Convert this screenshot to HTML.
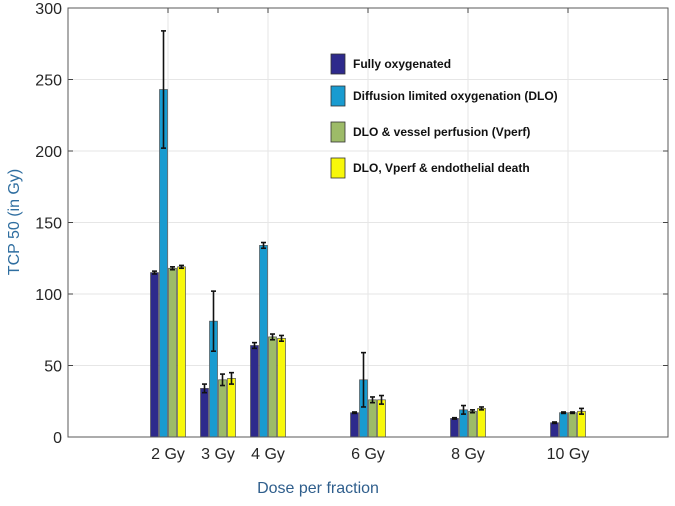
<!DOCTYPE html>
<html><head><meta charset="utf-8"><style>
body{margin:0;background:#fff;width:675px;height:501px;overflow:hidden}
svg text{font-family:"Liberation Sans",Arial,sans-serif}
</style></head><body>
<svg id="chart" width="675" height="501" xmlns="http://www.w3.org/2000/svg"></svg>
<script>
const categories = [2, 3, 4, 6, 8, 10];
const catLabels = ["2 Gy", "3 Gy", "4 Gy", "6 Gy", "8 Gy", "10 Gy"];
const seriesNames = ["Fully oxygenated", "Diffusion  limited oxygenation (DLO)", "DLO & vessel perfusion (Vperf)", "DLO, Vperf & endothelial death"];
const fullyOxy = [115, 34, 64, 17, 13, 10];
const dlo = [243, 81, 134, 40, 19, 17];
const vperf = [118, 40, 70, 26, 18, 17];
const endo = [119, 41, 69, 26, 20, 18];
const errFullyOxy = [1, 3, 2, 0.5, 0.5, 0.5];
const errDlo = [41, 21, 2, 19, 3, 0.5];
const errVperf = [1, 4, 2, 2, 1, 0.5];
const errEndo = [1, 4, 2, 3, 1, 2];
const yTicks = [0, 50, 100, 150, 200, 250, 300];
const xGrid = [2, 4, 6, 8, 10];

const colors = ["#2e2a8c", "#199bd0", "#9dbb68", "#f8f80a"];
const series = [fullyOxy, dlo, vperf, endo];
const errs = [errFullyOxy, errDlo, errVperf, errEndo];
const L = 68, R = 668, T = 8, B = 437;
const xs = v => L + (v / 12) * (R - L);
const ys = v => B - (v / 300) * (B - T);
const svg = document.getElementById('chart');
const NS = "http://www.w3.org/2000/svg";
function mk(tag, attrs, parent) {
  const e = document.createElementNS(NS, tag);
  for (const k in attrs) e.setAttribute(k, attrs[k]);
  (parent || svg).appendChild(e);
  return e;
}
mk('rect', {x: L, y: T, width: R - L, height: B - T, fill: '#fff'});
yTicks.forEach(t => {
  const g = mk('line', {x1: L, x2: R, y1: ys(t), y2: ys(t), stroke: '#e6e6e6', 'stroke-width': 1});
  
  
  mk('line', {x1: L, x2: L + 5, y1: ys(t), y2: ys(t), stroke: '#444'});
  mk('line', {x1: R, x2: R - 5, y1: ys(t), y2: ys(t), stroke: '#444'});
  const tx = mk('text', {x: L - 6, y: ys(t) + 6, 'text-anchor': 'end', 'font-size': 16, fill: '#262626'});
  tx.textContent = t;
  
  
});
xGrid.forEach(v => {
  const g = mk('line', {x1: xs(v), x2: xs(v), y1: T, y2: B, stroke: '#e6e6e6'});
  
  
});
categories.forEach(v => {
  mk('line', {x1: xs(v), x2: xs(v), y1: T, y2: T + 5, stroke: '#444'});
});
const offsets = [-13.5, -4.5, 4.5, 13.5];
const bw = 8;
series.forEach((s, si) => {
  s.forEach((val, i) => {
    const cx = xs(categories[i]) + offsets[si];
    const r = mk('rect', {x: cx - bw / 2, y: ys(val), width: bw, height: ys(0) - ys(val), fill: colors[si], stroke: '#555', 'stroke-width': 0.7});
    
    
    const e = errs[si][i];
    const e1 = ys(val + e), e2 = ys(val - e);
    const eb = mk('g', {stroke: '#111', 'stroke-width': 1.6});
    
    
    mk('line', {x1: cx, x2: cx, y1: e1, y2: e2}, eb);
    mk('line', {x1: cx - 2.5, x2: cx + 2.5, y1: e1, y2: e1}, eb);
    mk('line', {x1: cx - 2.5, x2: cx + 2.5, y1: e2, y2: e2}, eb);
  });
});
mk('rect', {x: L, y: T, width: R - L, height: B - T, fill: 'none', stroke: '#5a5a5a', 'stroke-width': 1});
categories.forEach((v, i) => {
  const tx = mk('text', {x: xs(v), y: 459, 'text-anchor': 'middle', 'font-size': 16, fill: '#262626'});
  tx.textContent = catLabels[i];
  
  
});
const xl = mk('text', {x: 318, y: 493, 'text-anchor': 'middle', 'font-size': 16, fill: '#2f5e8c'});
xl.textContent = 'Dose per fraction';


const yl = mk('text', {x: 0, y: 0, 'text-anchor': 'middle', 'font-size': 16, fill: '#2f6ea0', transform: 'translate(19,222) rotate(-90)'});
yl.textContent = 'TCP 50 (in Gy)';


const legend = mk('g', {});


const rowsY = [64, 96, 132, 168];
seriesNames.forEach((n, i) => {
  const p = mk('rect', {x: 331, y: rowsY[i] - 10, width: 14, height: 20, fill: colors[i], stroke: '#333', 'stroke-width': 0.8}, legend);
  
  
  const t = mk('text', {x: 353, y: rowsY[i] + 4, 'font-size': 12, 'font-weight': 'bold', fill: '#111'}, legend);
  t.textContent = n;
  
  
});
</script>
</body></html>
